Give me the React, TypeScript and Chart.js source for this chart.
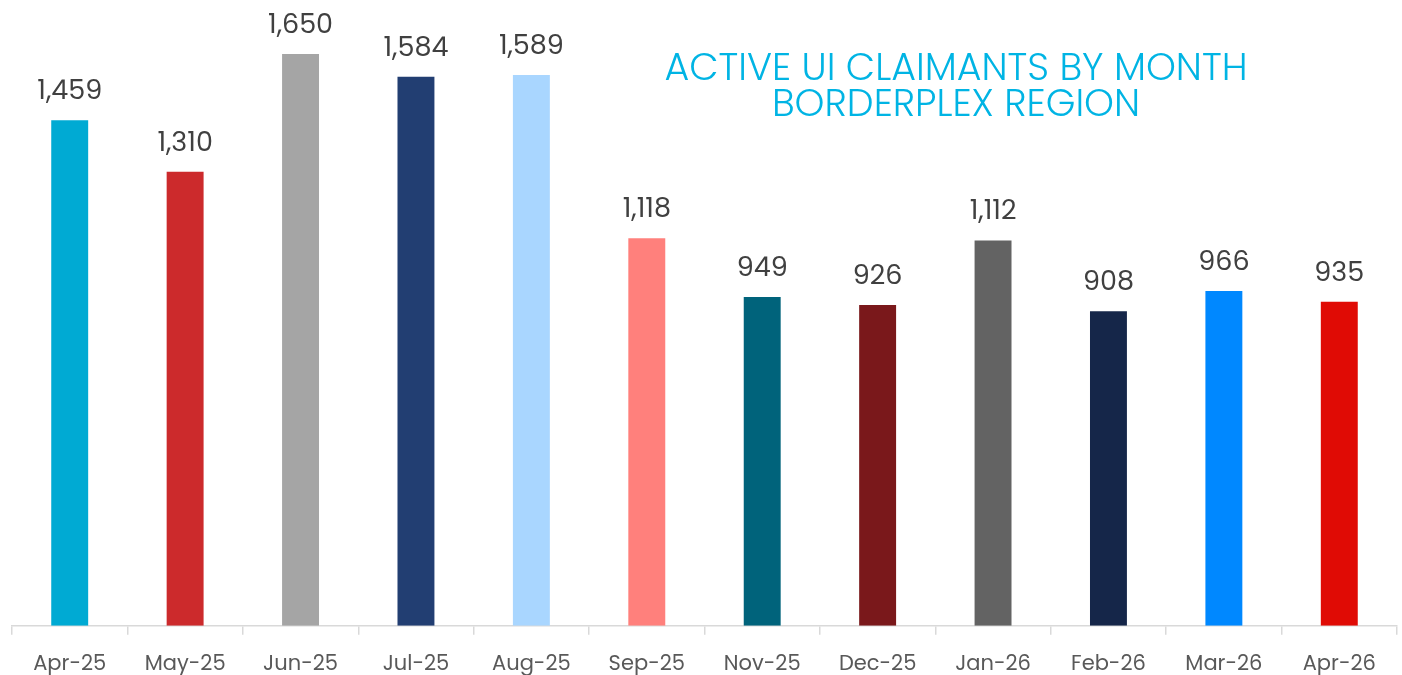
import React, { useEffect, useRef } from "react";
import { Chart, registerables } from "chart.js";

Chart.register(...registerables);

const categories = ["Apr-25", "May-25", "Jun-25", "Jul-25", "Aug-25", "Sep-25", "Nov-25", "Dec-25", "Jan-26", "Feb-26", "Mar-26", "Apr-26"];
const claimants = [1459, 1310, 1650, 1584, 1589, 1118, 949, 926, 1112, 908, 966, 935];
const barColors = ["#00AAD3", "#CC2A2C", "#A5A5A5", "#223E72", "#A9D6FF", "#FF807C", "#00637B", "#7A181B", "#636363", "#152649", "#0088FF", "#E00B05"];
const titleLines = ["ACTIVE UI CLAIMANTS BY MONTH", "BORDERPLEX REGION"];

const FONT = "Poppins, 'Open Sans', 'Noto Sans', sans-serif";

const labelPlugin = {
  id: "valueLabels",
  afterDatasetsDraw(chart: any) {
    const ctx = chart.ctx;
    const meta = chart.getDatasetMeta(0);
    ctx.save();
    ctx.font = `400 27px ${FONT}`;
    ctx.fillStyle = "#404040";
    ctx.textAlign = "center";
    ctx.textBaseline = "middle";
    meta.data.forEach((el: any, i: number) => {
      ctx.fillText(claimants[i].toLocaleString("en-US"), el.x, el.y - 28);
    });
    ctx.restore();
  },
};

const titlePlugin = {
  id: "innerTitle",
  afterDraw(chart: any) {
    const ctx = chart.ctx;
    ctx.save();
    ctx.font = `300 38px ${FONT}`;
    ctx.fillStyle = "#00B4E4";
    ctx.textAlign = "center";
    ctx.textBaseline = "middle";
    ctx.fillText(titleLines[0], 956, 70);
    ctx.fillText(titleLines[1], 956, 106);
    ctx.restore();
  },
};

export default function App() {
  const ref = useRef<HTMLCanvasElement>(null);
  useEffect(() => {
    if (!ref.current) return;
    const chart = new Chart(ref.current, {
      type: "bar",
      data: {
        labels: categories,
        datasets: [
          {
            data: claimants,
            backgroundColor: barColors,
            borderWidth: 0,
            barPercentage: 0.32,
            categoryPercentage: 1,
          },
        ],
      },
      options: {
        animation: false,
        responsive: false,
        maintainAspectRatio: false,
        layout: { padding: { left: 12, right: 5, top: 2, bottom: -19 } },
        plugins: {
          legend: { display: false },
          title: { display: false },
          tooltip: { enabled: false },
        },
        scales: {
          x: {
            offset: true,
            grid: {
              offset: true,
              drawOnChartArea: false,
              drawTicks: true,
              tickLength: 9,
              color: "#D9D9D9",
              lineWidth: 1.5,
            },
            border: { display: true, color: "#D9D9D9", width: 1.5 },
            ticks: {
              color: "#595959",
              font: { family: FONT, size: 21 },
              padding: 17,
              maxRotation: 0,
              autoSkip: false,
            },
          },
          y: {
            display: false,
            min: 0,
            max: 1800,
          },
        },
      },
      plugins: [labelPlugin, titlePlugin],
    });
    return () => chart.destroy();
  }, []);
  return (
    <div style={{ position: "absolute", left: 0, top: 0, width: 1402, height: 675, background: "#fff" }}>
      <canvas ref={ref} width={1402} height={675} style={{ display: "block" }} />
    </div>
  );
}
